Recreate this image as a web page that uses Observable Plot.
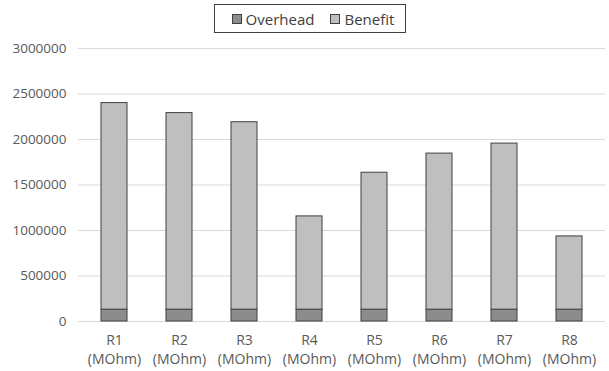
<!DOCTYPE html>
<html>
<head>
<meta charset="utf-8">
<script src="https://cdn.jsdelivr.net/npm/d3@7"></script>
<script src="https://cdn.jsdelivr.net/npm/@observablehq/plot@0.6"></script>
<style>
  body { margin: 0; background: #fff; font-family: "Open Sans", sans-serif; }
  #legend-wrap { height: 36px; display: flex; justify-content: center; align-items: flex-start; padding-left: 11px; }
  #legend { margin-top: 4px; border: 1px solid #404040; height: 29px; box-sizing: border-box;
            display: flex; align-items: center; padding: 0 11px 0 17px; gap: 16px; font-size: 15px; color: #404040; }
  .item { display: flex; align-items: center; gap: 4px; }
  .sw { width: 10px; height: 10px; border: 1px solid #404040; box-sizing: border-box; }
</style>
</head>
<body>
<div id="legend-wrap"><div id="legend"></div></div>
<div id="chart"></div>
<script>
// Resistor cases along the x axis
const resistors = ["R1", "R2", "R3", "R4", "R5", "R6", "R7", "R8"];
const unit = "(MOhm)";
// Stacked components per case
const overhead = [130000, 130000, 130000, 130000, 130000, 130000, 130000, 130000];
const benefit = [2270000, 2160000, 2060000, 1025000, 1505000, 1715000, 1825000, 805000];
const seriesNames = ["Overhead", "Benefit"];
const seriesColors = ["#8c8c8c", "#bfbfbf"];
const yTicks = [0, 500000, 1000000, 1500000, 2000000, 2500000, 3000000];

const rows = [];
resistors.forEach((r, i) => {
  rows.push({resistor: r, series: "Overhead", value: overhead[i]});
  rows.push({resistor: r, series: "Benefit", value: benefit[i]});
});

// Legend
const legend = document.getElementById("legend");
seriesNames.forEach((name, i) => {
  const item = document.createElement("div");
  item.className = "item";
  const sw = document.createElement("div");
  sw.className = "sw";
  sw.style.background = seriesColors[i];
  const label = document.createElement("span");
  label.textContent = name;
  item.append(sw, label);
  legend.append(item);
});

const chart = Plot.plot({
  width: 609,
  height: 335,
  marginTop: 12,
  marginBottom: 50,
  marginLeft: 78,
  marginRight: 4,
  style: {fontFamily: "Open Sans, sans-serif", fontSize: "13px", color: "#595959"},
  x: {domain: resistors, paddingInner: 0.6, paddingOuter: 0.3, label: null},
  y: {domain: [0, 3000000], label: null},
  color: {domain: seriesNames, range: seriesColors},
  marks: [
    Plot.gridY(yTicks, {stroke: "#d9d9d9", strokeOpacity: 1}),
    Plot.barY(rows, {
      x: "resistor", y: "value", fill: "series",
      order: seriesNames, stroke: "#404040", strokeWidth: 1
    }),
    Plot.axisY({ticks: yTicks, tickSize: 0, tickPadding: 12, tickFormat: d => String(d), fontSize: 13.5}),
    Plot.axisX({tickSize: 0, tickPadding: 11, lineHeight: 1.3, fontSize: 14, tickFormat: d => `${d}\n${unit}`})
  ]
});
document.getElementById("chart").append(chart);
</script>
</body>
</html>
